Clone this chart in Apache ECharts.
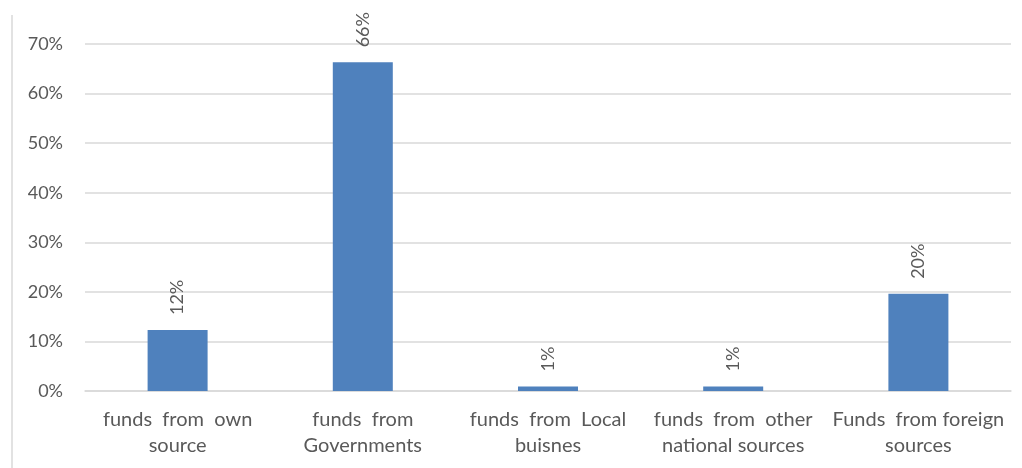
<!DOCTYPE html>
<html>
<head>
<meta charset="utf-8">
<script src="https://cdn.jsdelivr.net/npm/echarts@6/dist/echarts.min.js"></script>
<style>html,body{margin:0;padding:0;background:#fff;}#c{width:1022px;height:468px;}</style>
</head>
<body>
<div id="c"></div>
<script>
const categories = [
  'funds  from  own\nsource',
  'funds  from\nGovernments',
  'funds  from  Local\nbuisnes',
  'funds  from  other\nnational sources',
  'Funds  from foreign\nsources'
];
const values = [12.3, 66.3, 0.9, 0.9, 19.6];
const valueLabels = ['12%', '66%', '1%', '1%', '20%'];
const yTicks = [0, 10, 20, 30, 40, 50, 60, 70];

const chart = echarts.init(document.getElementById('c'));
chart.setOption({
  animation: false,
  backgroundColor: '#fff',
  grid: { left: 85, right: 11, top: 44, bottom: 77, containLabel: false },
  graphic: [{
    type: 'line', shape: { x1: 12, y1: 15, x2: 12, y2: 468 },
    style: { stroke: '#d9d9d9', lineWidth: 1.5 }
  }],
  xAxis: {
    type: 'category',
    data: categories,
    axisLine: { lineStyle: { color: '#d9d9d9', width: 1.5 } },
    axisTick: { show: false },
    axisLabel: { color: '#595959', fontFamily: 'Lato', fontSize: 20, lineHeight: 26, margin: 16, interval: 0 }
  },
  yAxis: {
    type: 'value',
    min: 0, max: 70, interval: 10,
    axisLine: { show: false },
    axisTick: { show: false },
    splitLine: { lineStyle: { color: '#d9d9d9', width: 1.5 } },
    axisLabel: { color: '#595959', fontFamily: 'Lato', fontSize: 18, margin: 22,
      formatter: v => yTicks.includes(v) ? v + '%' : '' }
  },
  series: [{
    type: 'bar',
    data: values,
    barWidth: 60,
    itemStyle: { color: '#4f81bd' },
    label: {
      show: true, position: 'top', rotate: 90, align: 'left', verticalAlign: 'middle',
      distance: 15, color: '#595959', fontFamily: 'Lato', fontSize: 18,
      formatter: p => valueLabels[p.dataIndex]
    }
  }]
});
</script>
</body>
</html>
